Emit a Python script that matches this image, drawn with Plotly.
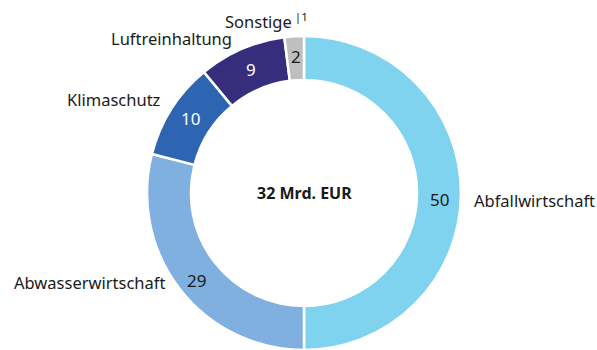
import math
import plotly.graph_objects as go

# Shares of environmental protection spending (percent of total)
categories = ["Abfallwirtschaft", "Abwasserwirtschaft", "Klimaschutz", "Luftreinhaltung", "Sonstige"]
shares = [50, 29, 10, 9, 2]
label_texts = ["Abfallwirtschaft", "Abwasserwirtschaft", "Klimaschutz", "Luftreinhaltung", "Sonstige<sup> |1</sup>"]
total_text = "32 Mrd. EUR"

colors = ["#7FD3EE", "#80B0E0", "#2E65B2", "#362D7C", "#BFBFBF"]
value_font_colors = ["#1a1a1a", "#1a1a1a", "#ffffff", "#ffffff", "#1a1a1a"]

# Canvas and ring geometry (pixels)
W, H = 597, 350
CX, CY, R = 304, 193, 157
HOLE = 0.72
FONT = "Noto Sans, Open Sans, sans-serif"

# Outside-label placement: anchor side and pixel nudges (dx right, dy down)
label_style = [
    ("left", 11, 8),
    ("right", -13, -7),
    ("right", -8, -9),
    ("right", -8, -10),
    ("right", 16, -15),
]
# Small nudges for the values inside the ring (dx right, dy down)
value_style = [(0, 7), (-1, 5), (1, -2), (1, 0), (0, -2)]


def to_paper(px, py):
    return px / W, 1 - py / H


fig = go.Figure()
fig.add_trace(go.Pie(
    labels=categories,
    values=shares,
    hole=HOLE,
    sort=False,
    direction="clockwise",
    rotation=0,
    textinfo="none",
    marker=dict(colors=colors, line=dict(color="#ffffff", width=2.5)),
    domain=dict(x=[(CX - R) / W, (CX + R) / W], y=[(H - CY - R) / H, (H - CY + R) / H]),
    showlegend=False,
))

annotations = []
total = sum(shares)
cum = 0.0
r_mid = R * (1 + HOLE) / 2
for val, lab, vcol, (xa, dx, dy), (vdx, vdy) in zip(shares, label_texts, value_font_colors, label_style, value_style):
    mid = (cum + val / 2) / total * 2 * math.pi
    cum += val
    s, c = math.sin(mid), math.cos(mid)

    # value inside the ring
    vx, vy = to_paper(CX + r_mid * s, CY - r_mid * c)
    annotations.append(dict(
        x=vx, y=vy, xref="paper", yref="paper", text=str(val), showarrow=False,
        xanchor="center", yanchor="middle", xshift=vdx, yshift=-vdy,
        font=dict(family=FONT, size=17, color=vcol),
    ))

    # category name outside the ring
    lx, ly = to_paper(CX + R * s, CY - R * c)
    annotations.append(dict(
        x=lx, y=ly, xref="paper", yref="paper", text=lab, showarrow=False,
        xanchor=xa, yanchor="middle", xshift=dx, yshift=-dy,
        font=dict(family=FONT, size=16.5, color="#1a1a1a"),
    ))

cx_p, cy_p = to_paper(CX, CY)
annotations.append(dict(
    x=cx_p, y=cy_p, xref="paper", yref="paper", text="<b>" + total_text + "</b>",
    showarrow=False, xanchor="center", yanchor="middle", yshift=-0.5,
    font=dict(family=FONT, size=16, color="#1a1a1a"),
))

fig.update_layout(
    width=W, height=H,
    margin=dict(l=0, r=0, t=0, b=0),
    paper_bgcolor="#ffffff",
    plot_bgcolor="#ffffff",
    annotations=annotations,
)

fig.write_html("out.html")
